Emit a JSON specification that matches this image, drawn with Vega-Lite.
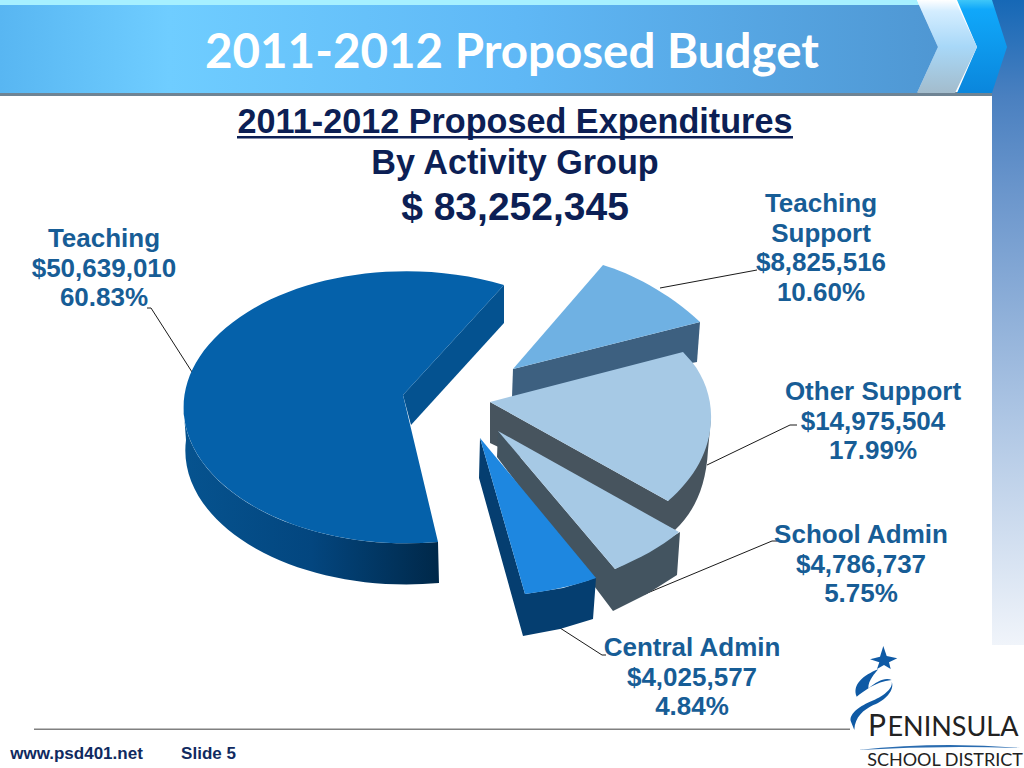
{
"$schema":"https://vega.github.io/schema/vega-lite/v6.json",
"width":1024,"height":768,"padding":0,"autosize":{"type":"none"},"background":"#ffffff",
"config":{"view":{"stroke":null}},
"datasets":{
"slices":[
{"group":"Central Admin","amount":4025577,"share":4.84,"label":"Central Admin\n$4,025,577\n4.84%"},
{"group":"School Admin","amount":4786737,"share":5.75,"label":"School Admin\n$4,786,737\n5.75%"},
{"group":"Teaching Support","amount":8825516,"share":10.60,"label":"Teaching\nSupport\n$8,825,516\n10.60%"},
{"group":"Other Support","amount":14975504,"share":17.99,"label":"Other Support\n$14,975,504\n17.99%"},
{"group":"Teaching","amount":50639010,"share":60.83,"label":"Teaching\n$50,639,010\n60.83%"}
]},
"layer":[
{"layer":[
{"data":{"values":[{"part":"strip"}]},
 "mark":{"type":"point","size":4,"filled":true,"opacity":1,"strokeWidth":0,"shape":"M992,0 L1024,0 L1024,645 L992,645 Z",
 "fill":{"gradient":"linear","x1":0,"x2":0,"y1":0,"y2":1,"stops":[{"offset":0,"color":"#1668b6"},{"offset":0.15,"color":"#4a80c0"},{"offset":0.3,"color":"#6b96cc"},{"offset":0.65,"color":"#aec6e4"},{"offset":1,"color":"#f0f4fa"}]}}},
{"data":{"values":[{"part":"header shadow"},{"part":"header top"},{"part":"footer rule"},{"part":"heading underline"},{"part":"logo star"},{"part":"logo swoosh upper"},{"part":"logo swoosh lower"},{"part":"logo curve"}]},
 "mark":{"type":"point","size":4,"filled":true,"opacity":1,"strokeWidth":0},
 "encoding":{
 "shape":{"field":"part","type":"nominal","legend":null,"scale":{"domain":["header shadow","header top","footer rule","heading underline","logo star","logo swoosh upper","logo swoosh lower","logo curve"],
 "range":["M0,92 L992,92 L992,96 L0,96 Z","M0,0 L917,0 L919,5 L0,5 Z","M34,728.5 L850,728.5 L850,730 L34,730 Z","M237,136 L793,136 L793,138.5 L237,138.5 Z",
 "M883.3,646 L886.7,656 L897.3,658.3 L889,662.3 L890.7,669 L884,665 L877,669 L879.3,662.3 L870,659.3 L880,656.7 Z",
 "M878.3,669.3 C863.3,675 851.7,685 856.7,696.7 C863.3,691.7 875,681.7 891.7,680 C885,676.7 876.7,681.7 868.3,688.3 C868.3,680 875,673.3 878.3,669.3 Z",
 "M891.7,681.7 C893.3,688.3 883.3,696.7 870,701.7 C858.3,706.7 848.3,715 851,721.7 L854.3,730 C855,716.7 863.3,710 873.3,705 C885,700.7 895,690 891.7,681.7 Z",
 "M858,750 Q940,741 1020,748 Q940,745 858,750 Z"]}},
 "color":{"field":"part","type":"nominal","legend":null,"scale":{"domain":["header shadow","header top","footer rule","heading underline","logo star","logo swoosh upper","logo swoosh lower","logo curve"],
 "range":["#6f8494","#a6f0ff","#808080","#0c1f55","#0f5aa5","#0f5aa5","#0f5aa5","#2a6cb0"]}}
 }},
{"data":{"values":[{"part":"chevron far"}]},
 "mark":{"type":"point","size":4,"filled":true,"opacity":1,"strokeWidth":0,"shape":"M957,0 L992,0 L1007,47 L992,93 L957,93 L977,47 Z",
 "fill":{"gradient":"linear","x1":0,"x2":0,"y1":0,"y2":1,"stops":[{"offset":0,"color":"#3ec6f8"},{"offset":0.1,"color":"#10a8fa"},{"offset":1,"color":"#0a86dc"}]}}},
{"data":{"values":[{"part":"chevron near"}]},
 "mark":{"type":"point","size":4,"filled":true,"opacity":1,"strokeWidth":0,"shape":"M917,0 L955,0 L977,47 L955,93 L917,93 L938,47 Z",
 "fill":{"gradient":"linear","x1":0,"x2":0,"y1":0,"y2":1,"stops":[{"offset":0,"color":"#ffffff"},{"offset":0.12,"color":"#d4edff"},{"offset":0.5,"color":"#a8d8f8"},{"offset":1,"color":"#a3bccc"}]}}},
{"data":{"values":[{"part":"header band"}]},
 "mark":{"type":"point","size":4,"filled":true,"opacity":1,"strokeWidth":0,"shape":"M0,5 L919,5 L938,47 L917,93 L0,93 Z",
 "fill":{"gradient":"linear","x1":0,"x2":1,"y1":0,"y2":0,"stops":[{"offset":0,"color":"#58b6f2"},{"offset":0.18,"color":"#6fcdff"},{"offset":0.55,"color":"#5fb8f6"},{"offset":1,"color":"#4f97d3"}]}}},
{"data":{"name":"slices"},
 "mark":{"type":"point","size":4,"filled":false,"opacity":1,"stroke":"#1a1a1a","strokeWidth":1},
 "encoding":{"shape":{"field":"group","type":"nominal","legend":null,"scale":{"domain":["Central Admin","School Admin","Teaching Support","Other Support","Teaching"],
 "range":["M560,628 L602,655 L606,655","M645,594 L772,541 L777,541","M660,288 L757,270","M707,465 L790,425 L797,425","M147,308 L151,308 L192,372"]}}}},
{"data":{"values":[{"group":"Teaching"}]},
 "mark":{"type":"point","size":4,"filled":true,"opacity":1,"strokeWidth":0,"shape":"M183.5,407 A223,136 0 0,0 438,542 L439,583 A221,134 0 0,1 186,440 Z",
 "fill":{"gradient":"linear","x1":0,"x2":1,"y1":0,"y2":0,"stops":[{"offset":0,"color":"#06538f"},{"offset":0.5,"color":"#03467f"},{"offset":1,"color":"#002849"}]}}},
{"data":{"name":"slices"},
 "mark":{"type":"point","size":4,"filled":true,"opacity":1,"strokeWidth":0},
 "encoding":{
 "shape":{"field":"group","type":"nominal","legend":null,"scale":{"domain":["Teaching","Teaching Support","Other Support","School Admin","Central Admin"],
 "range":["M403,395 L504,285 L504,323 L411,425 Z",
 "M513,369 L700,322 L697,362 L512,397 Z",
 "M490,402 L490,443 L675,530 C692,514 706,490 708,450 L711,418 L668,501 Z",
 "M498,431 L497,457 L613,611 L647,594 L677,575 L680,532 L647,552 L615,569 Z",
 "M480,438 L479,478 L523,636 L560,629 L593,619 L596,578 L563,588 L525,594 Z"]}},
 "color":{"field":"group","type":"nominal","legend":null,"scale":{"domain":["Teaching","Teaching Support","Other Support","School Admin","Central Admin"],
 "range":["#045290","#3d6080","#47545e","#435460","#053e70"]}},
 "order":{"field":"share","sort":"descending"}}},
{"data":{"name":"slices"},
 "mark":{"type":"point","size":4,"filled":true,"opacity":1,"strokeWidth":0},
 "encoding":{
 "shape":{"field":"group","type":"nominal","legend":null,"scale":{"domain":["Teaching","Teaching Support","Other Support","School Admin","Central Admin"],
 "range":["M504,285 A223,136 0 1,0 438,542 L403,395 Z",
 "M603,265 C630,273 668,292 700,322 L513,369 Z",
 "M490,402 L683,352 L692,362 C705,378 712,400 711,420 C710,450 695,478 668,501 Z",
 "M498,431 L679,532 C660,548 640,558 615,569 Z",
 "M480,438 L596,578 C570,587 548,591 525,594 Z"]}},
 "color":{"field":"group","type":"nominal","legend":null,"scale":{"domain":["Teaching","Teaching Support","Other Support","School Admin","Central Admin"],
 "range":["#0561aa","#6fb1e3","#a6c9e5","#a6c9e5","#1e87e0"]}}}}
],
"encoding":{
"x":{"datum":0,"type":"quantitative","axis":null,"scale":{"domain":[0,1],"range":[0,0]}},
"y":{"datum":0,"type":"quantitative","axis":null,"scale":{"domain":[0,1],"range":[0,0]}}
},
"resolve":{"scale":{"shape":"independent","color":"independent"}}
},
{"data":{"name":"slices"},
 "mark":{"type":"text","font":"Liberation Sans","fontWeight":"bold","fontSize":26,"lineBreak":"\n","lineHeight":29.5,"align":"center","baseline":"middle","color":"#175d96"},
 "encoding":{
 "x":{"field":"share","type":"quantitative","axis":null,"scale":{"domain":[4.84,5.75,10.60,17.99,60.83],"range":[692,861,821,873,104],"zero":false,"nice":false}},
 "y":{"field":"share","type":"quantitative","axis":null,"scale":{"domain":[4.84,5.75,10.60,17.99,60.83],"range":[648,535,204,392,239],"zero":false,"nice":false}},
 "text":{"field":"label","type":"nominal"}}},
{"data":{"values":[{"slot":1,"text":"2011-2012 Proposed Budget"}]},
 "mark":{"type":"text","font":"Lato","fontWeight":"bold","fontSize":47.5,"align":"center","baseline":"alphabetic","color":"#ffffff"},
 "encoding":{
 "x":{"field":"slot","type":"quantitative","axis":null,"scale":{"domain":[0,1],"range":[0,512]}},
 "y":{"field":"slot","type":"quantitative","axis":null,"scale":{"domain":[0,1],"range":[0,68]}},
 "text":{"field":"text","type":"nominal"}}},
{"data":{"values":[{"slot":1,"text":"2011-2012 Proposed Expenditures"},{"slot":2,"text":"By Activity Group"}]},
 "mark":{"type":"text","font":"Liberation Sans","fontWeight":"bold","fontSize":34.2,"align":"center","baseline":"alphabetic","color":"#0c1f55"},
 "encoding":{
 "x":{"field":"slot","type":"quantitative","axis":null,"scale":{"domain":[1,2],"range":[515,515]}},
 "y":{"field":"slot","type":"quantitative","axis":null,"scale":{"domain":[1,2],"range":[133,174]}},
 "text":{"field":"text","type":"nominal"}}},
{"data":{"values":[{"total":83252345,"text":"$ 83,252,345"}]},
 "mark":{"type":"text","font":"Liberation Sans","fontWeight":"bold","fontSize":39,"align":"center","baseline":"alphabetic","color":"#0c1f55"},
 "encoding":{
 "x":{"field":"total","type":"quantitative","axis":null,"scale":{"domain":[0,83252345],"range":[0,515]}},
 "y":{"field":"total","type":"quantitative","axis":null,"scale":{"domain":[0,83252345],"range":[0,220]}},
 "text":{"field":"text","type":"nominal"}}},
{"data":{"values":[{"slot":1,"text":"www.psd401.net"},{"slot":2,"text":"Slide 5"}]},
 "mark":{"type":"text","font":"Liberation Sans","fontWeight":"bold","fontSize":17,"align":"center","baseline":"alphabetic","color":"#102a60"},
 "encoding":{
 "x":{"field":"slot","type":"quantitative","axis":null,"scale":{"domain":[1,2],"range":[76.5,208.5]}},
 "y":{"field":"slot","type":"quantitative","axis":null,"scale":{"domain":[1,2],"range":[759,759]}},
 "text":{"field":"text","type":"nominal"}}},
{"data":{"values":[{"slot":1,"text":"P","size":30},{"slot":2,"text":"ENINSULA","size":27},{"slot":3,"text":"SCHOOL DISTRICT","size":18}]},
 "mark":{"type":"text","font":"Lato","align":"center","baseline":"alphabetic","color":"#222222"},
 "encoding":{
 "x":{"field":"slot","type":"quantitative","axis":null,"scale":{"domain":[1,2,3],"range":[877,953,945]}},
 "y":{"field":"slot","type":"quantitative","axis":null,"scale":{"domain":[1,2,3],"range":[736,736,766]}},
 "size":{"field":"size","type":"quantitative","legend":null,"scale":{"domain":[18,27,30],"range":[18,27,30],"zero":false}},
 "text":{"field":"text","type":"nominal"}}}
],
"resolve":{"scale":{"x":"independent","y":"independent","shape":"independent","color":"independent","size":"independent"}}
}
